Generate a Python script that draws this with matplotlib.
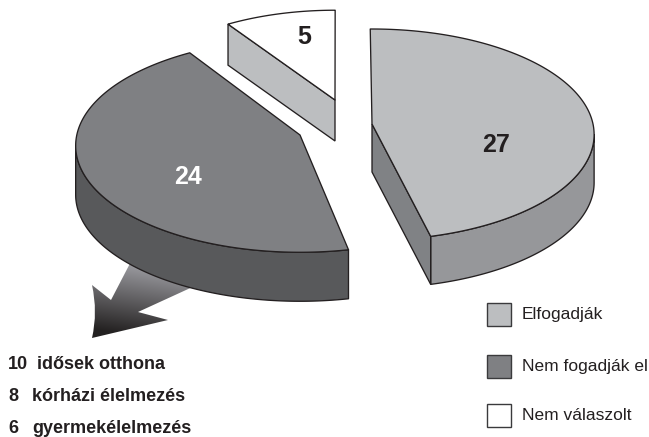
import numpy as np
import matplotlib
matplotlib.use("Agg")
import matplotlib.pyplot as plt
from matplotlib.patches import Polygon, PathPatch, Rectangle
from matplotlib.path import Path

plt.rcParams['font.family'] = ['Liberation Sans', 'DejaVu Sans']

# Survey answers
categories = ["Elfogadják", "Nem fogadják el", "Nem válaszolt"]
values = [27, 24, 5]
# Breakdown of the refusals
detail_counts = [10, 8, 6]
detail_labels = ["idősek otthona", "kórházi élelmezés", "gyermekélelmezés"]

TOP_COLORS = ["#bcbec0", "#7f8083", "#ffffff"]
SIDE_COLORS = ["#96979a", "#58595b", "#ffffff"]
EDGE = "#231f20"

# Slice placement on the tilted disc: apex, start angle, sweep correction, radius scale, thickness
APEX = [(372, 124), (300, 135), (335, 100)]
START = [-0.5, 168.7, -33.7]
SWEEP_SCALE = [0.96, 1.03, 1.05]
RADIUS = [1.0, 1.01, 0.945]
DEPTH = [48, 49, 41]
LABEL_POS = [(496, 145), (188, 177), (304, 37)]
LABEL_COLORS = [EDGE, "white", EDGE]

A, B, K = 221.0, 104.5, 0.10
TOTAL = sum(values)


def project(t_deg, apex, scale):
    t = np.radians(t_deg)
    d = 1 + K * np.cos(t)
    return (apex[0] + scale * A * np.sin(t) / d,
            apex[1] - scale * B * np.cos(t) / d)


def arc(t0, t1, apex, scale):
    ts = np.linspace(t0, t1, 160)
    x, y = project(ts, apex, scale)
    return np.column_stack([x, y])


fig = plt.figure(figsize=(6.49, 4.37), dpi=100)
ax = fig.add_axes([0, 0, 1, 1])
ax.set_xlim(0, 649)
ax.set_ylim(437, 0)
ax.axis("off")

# Gradient arrow leaving the refusal slice; its tail runs under the disc
arrow_verts = [(138, 248), (111, 300), (92, 285), (98, 312), (92, 338),
               (168, 320), (138, 312), (210, 279), (138, 248)]
arrow_codes = [Path.MOVETO, Path.LINETO, Path.LINETO, Path.CURVE3, Path.CURVE3,
               Path.LINETO, Path.LINETO, Path.LINETO, Path.CLOSEPOLY]
gx, gy = np.meshgrid(np.linspace(85, 215, 260), np.linspace(245, 345, 200))
direction = np.array([-0.15, 1.0]) / np.hypot(0.15, 1.0)
g = ((gx - 150) * direction[0] + (gy - 265) * direction[1]) / 72
g = np.clip(g, 0, 1)
c0, c1 = np.array([0.62, 0.62, 0.64]), np.array([0.14, 0.13, 0.13])
rgb = c0[None, None, :] * (1 - g[..., None]) + c1[None, None, :] * g[..., None]
im = ax.imshow(rgb, extent=(85, 215, 345, 245), aspect="auto", zorder=1, interpolation="bilinear")
clip = PathPatch(Path(arrow_verts, arrow_codes), transform=ax.transData, facecolor="none", edgecolor="none")
ax.add_patch(clip)
im.set_clip_path(clip)
ax.set_xlim(0, 649)
ax.set_ylim(437, 0)

lw = 0.95
for i, v in enumerate(values):
    sweep = v / TOTAL * 360 * SWEEP_SCALE[i]
    t0, t1 = START[i], START[i] + sweep
    apex, s, depth = APEX[i], RADIUS[i], DEPTH[i]
    rim = arc(t0, t1, apex, s)

    # Outer wall: only the stretch of rim facing the viewer
    t_right = np.degrees(np.arccos(-K))
    lo, hi = None, None
    if t0 <= t_right <= t1:
        lo, hi = t_right, t1
    elif t0 <= 360 - t_right <= t1:
        lo, hi = t0, 360 - t_right
    if lo is not None:
        wall = arc(lo, hi, apex, s)
        poly = np.vstack([wall, (wall + [0, depth])[::-1]])
        ax.add_patch(Polygon(poly, closed=True, fc=SIDE_COLORS[i], ec=EDGE, lw=lw, zorder=3, joinstyle="round"))

    # Cut face on the front edge of the slice
    if i == 0:
        end = np.array(project(t1, apex, s))
        face = [apex, end, end + [0, depth], (apex[0], apex[1] + depth)]
        ax.add_patch(Polygon(face, closed=True, fc="#808285", ec=EDGE, lw=lw, zorder=3))
    if i == 2:
        start = np.array(project(t0, apex, s))
        face = [apex, start, start + [0, depth], (apex[0], apex[1] + depth)]
        ax.add_patch(Polygon(face, closed=True, fc="#bcbec0", ec=EDGE, lw=lw, zorder=3))

    top = np.vstack([[apex], rim])
    ax.add_patch(Polygon(top, closed=True, fc=TOP_COLORS[i], ec=EDGE, lw=lw, zorder=4, joinstyle="round"))
    ax.text(*LABEL_POS[i], str(v), weight="bold", fontsize=18,
            color=LABEL_COLORS[i], ha="center", va="center", zorder=5)

# Legend
legend_y = [303, 355, 404]
for y, name, color in zip(legend_y, categories, TOP_COLORS):
    ax.add_patch(Rectangle((487, y), 23.5, 22.5, fc=color, ec="#3a3a3c", lw=1.0, zorder=4))
    ax.text(522, y + 12, name, fontsize=12.5, color=EDGE, ha="left", va="center", zorder=5)

# Breakdown of the refusals under the arrow
detail_y = [369, 401, 433]
detail_x = [37, 32, 32]
for y, x, n, name in zip(detail_y, detail_x, detail_counts, detail_labels):
    ax.text(8, y, str(n), weight="bold", fontsize=13, color=EDGE, ha="left", va="baseline", zorder=5)
    ax.text(x, y, name, weight="bold", fontsize=13, color=EDGE, ha="left", va="baseline", zorder=5)

fig.savefig("out.png", dpi=100)
